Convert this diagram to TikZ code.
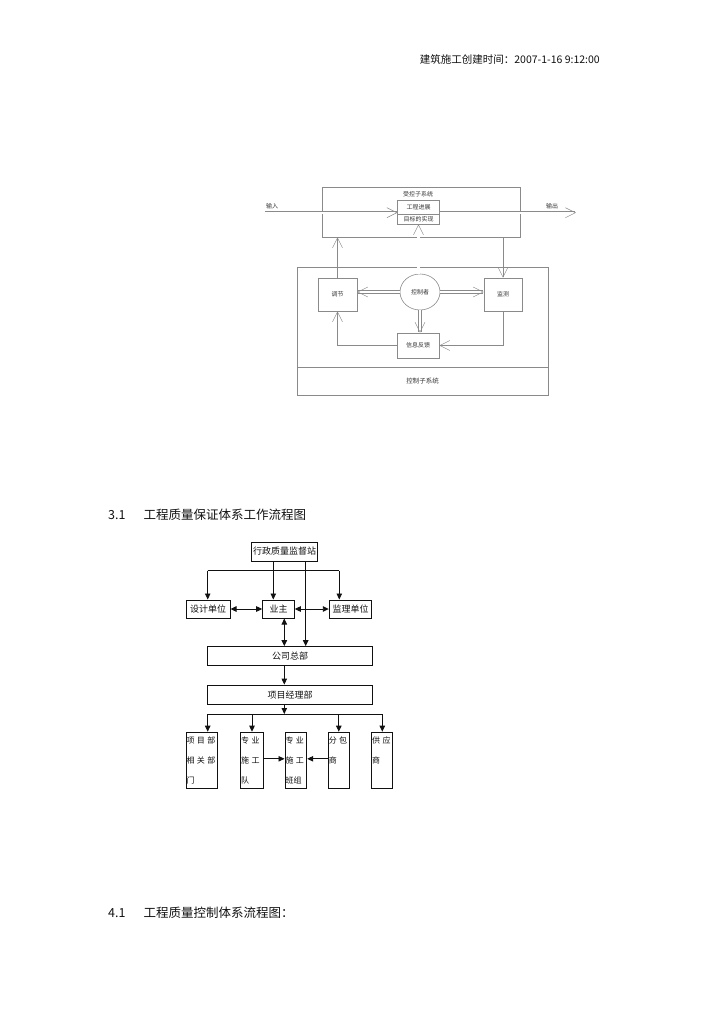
\documentclass[tikz,border=0pt]{standalone}
\usepackage{fontspec}
\setmainfont{Noto Sans CJK SC}
\usetikzlibrary{arrows.meta,positioning,calc,shapes.geometric}
\definecolor{cInk}{HTML}{111111}
\definecolor{cGrey}{HTML}{8A8A8A}
\definecolor{cText}{HTML}{333333}
\tikzset{
  font=\fontsize{9}{11}\selectfont,
  % upper diagram: thin grey boxes and open tips
  gbox/.style={draw=cGrey, line width=0.6pt, inner sep=0pt, text=cText,
               font=\fontsize{6}{7}\selectfont},
  glbl/.style={inner sep=0pt, text=cText, font=\fontsize{6}{7}\selectfont},
  garr/.style={draw=cGrey, line width=0.5pt,
               -{Straight Barb[length=10pt, width=10pt, line width=0.5pt]}},
  gdbl/.style={draw=cGrey, line width=0.5pt, double=white, double distance=2.2pt,
               -{Straight Barb[length=10pt, width=10pt]}},
  gline/.style={draw=cGrey, line width=0.5pt},
  % lower diagram: black boxes and filled tips
  kbox/.style={draw=cInk, line width=1pt, inner sep=1pt, text=cInk},
  karr/.style={draw=cInk, line width=0.9pt, -{Triangle[length=6pt, width=5.5pt]}},
  kdbl/.style={draw=cInk, line width=0.9pt,
               {Triangle[length=6pt, width=5.5pt]}-{Triangle[length=6pt, width=5.5pt]}},
  kline/.style={draw=cInk, line width=0.9pt},
  vbox/.style={kbox, minimum height=56.6pt, align=left, inner sep=0.5pt,
               font=\fontsize{8}{20}\selectfont, anchor=north},
  head/.style={anchor=west, inner sep=0pt, text=cInk, font=\fontsize{12.5}{14}\selectfont},
}
\newcommand{\gp}{\hspace{2.4pt}}

\begin{document}
\begin{tikzpicture}[x=1pt, y=-1pt]
  \useasboundingbox (0,0) rectangle (724,1024);
  % header line
  \node[anchor=east, inner sep=0pt, text=cInk, font=\fontsize{10.5}{12}\selectfont]
    (stamp) at (600,59) {建筑施工创建时间：2007-1-16 9:12:00};

  % ---- control system diagram ----
  \node[gbox, minimum width=198pt, minimum height=50pt] (plant) at (421,212) {};
  \node[glbl] (plantlbl) at (418,194) {受控子系统};
  \node[gbox, minimum width=41.5pt, minimum height=13.3pt] (prog) at (418.5,207.3) {工程进展};
  \node[gbox, minimum width=41.5pt, minimum height=10pt] (goal) at (418.5,219) {目标的实现};
  \node[gbox, minimum width=251pt, minimum height=100pt] (ctrl) at (422.5,317) {};
  \node[gbox, minimum width=251pt, minimum height=28pt, font=\fontsize{6.5}{7}\selectfont]
    (ctrlbar) at (422.5,381) {控制子系统};
  \node[gbox, minimum width=39pt, minimum height=33pt] (adj) at (337.5,294.5) {调节};
  \node[gbox, minimum width=38pt, minimum height=33pt] (mon) at (503,294.5) {监测};
  \node[gbox, ellipse, minimum width=40pt, minimum height=36pt] (boss) at (420,292) {控制者};
  \node[gbox, minimum width=42pt, minimum height=25pt] (fb) at (418,345.5) {信息反馈};
  \node[glbl] (inlbl) at (272,206) {输入};
  \node[glbl] (outlbl) at (552,206) {输出};
  \coordinate (inp) at (265,212.7);
  \coordinate (outp) at (576,212.7);

  \draw[gdbl] (inp) -- (inp -| prog.west);
  \draw[gdbl] (inp -| prog.east) -- (outp);
  \draw[gdbl] (goal.south |- boss.north) -- (goal.south);
  \draw[gdbl] (boss.west) -- (boss.west -| adj.east);
  \draw[gdbl] (boss.east) -- (boss.east -| mon.west);
  \draw[gdbl] (boss.south) -- (boss.south |- fb.north);
  \draw[garr] (adj.north) -- (adj.north |- plant.south);
  \draw[garr] (mon.north |- plant.south) -- (mon.north);
  \draw[garr] (mon.south) |- (fb.east);
  \draw[garr] (fb.west) -| (adj.south);

  % ---- section 3.1 ----
  \node[head] (sec31) at (108,515) {3.1\hspace{18pt}工程质量保证体系工作流程图};

  \node[kbox, minimum width=66pt, minimum height=19pt] (sup) at (284.7,551.5) {行政质量监督站};
  \node[kbox, minimum width=44pt, minimum height=18pt] (des) at (208,609) {设计单位};
  \node[kbox, minimum width=31.6pt, minimum height=18pt] (own) at (278.5,609) {业主};
  \node[kbox, minimum width=42.4pt, minimum height=18pt] (mgr) at (350.5,609) {监理单位};
  \node[kbox, minimum width=164.6pt, minimum height=19.3pt] (hq) at (290,656.3) {公司总部};
  \node[kbox, minimum width=164.6pt, minimum height=19.3pt] (pm) at (290,694.7) {项目经理部};
  \node[vbox, text width=30.7pt] (dept) at (201.85,731.7) {项\gp 目\gp 部\\相\gp 关\gp 部\\门};
  \node[vbox, text width=21.6pt] (team) at (252,731.7) {专\gp 业\\施\gp 工\\队};
  \node[vbox, text width=20.7pt] (crew) at (295.85,731.7) {专\gp 业\\施\gp 工\\班组};
  \node[vbox, text width=20pt] (sub) at (338.8,731.7) {分\gp 包\\商\\~};
  \node[vbox, text width=20pt] (supp) at (382.2,731.7) {供\gp 应\\商\\~};

  \coordinate (busA) at (207.7,570.7);
  \coordinate (busB) at (339.3,570.7);
  \coordinate (busC) at (207.7,714);
  \coordinate (busD) at (382.3,714);

  \draw[kline] (busA) -- (busB);
  \draw[karr] (busA) -- (busA |- des.north);
  \draw[karr] (busB) -- (busB |- mgr.north);
  \draw[karr] ([xshift=-11.4pt]sup.south) -- ([xshift=-5.2pt]own.north);
  \draw[karr] ([xshift=21pt]sup.south) -- ([xshift=21pt]sup.south |- hq.north);
  \draw[kdbl] (des.east) -- (own.west);
  \draw[kdbl] (own.east) -- (mgr.west);
  \draw[kdbl] ([xshift=5.8pt]own.south) -- ([xshift=5.8pt]own.south |- hq.north);
  \draw[karr] ([xshift=-5.7pt]hq.south) -- ([xshift=-5.7pt]pm.north);
  \draw[karr] ([xshift=-5.7pt]pm.south) -- ([xshift=-5.7pt]pm.south |- busC);
  \draw[kline] (busC) -- (busD);
  \draw[karr] (busC) -- (busC |- dept.north);
  \draw[karr] (busD) -- (busD |- supp.north);
  \foreach \b in {team,sub} \draw[karr] (\b.north |- busC) -- (\b.north);
  \draw[karr] ([yshift=1.7pt]team.east) -- ([yshift=1.7pt]crew.west);
  \draw[karr] ([yshift=1.7pt]sub.west) -- ([yshift=1.7pt]crew.east);

  % ---- section 4.1 ----
  \node[head] (sec41) at (108,913) {4.1\hspace{18pt}工程质量控制体系流程图：};
\end{tikzpicture}
\end{document}
